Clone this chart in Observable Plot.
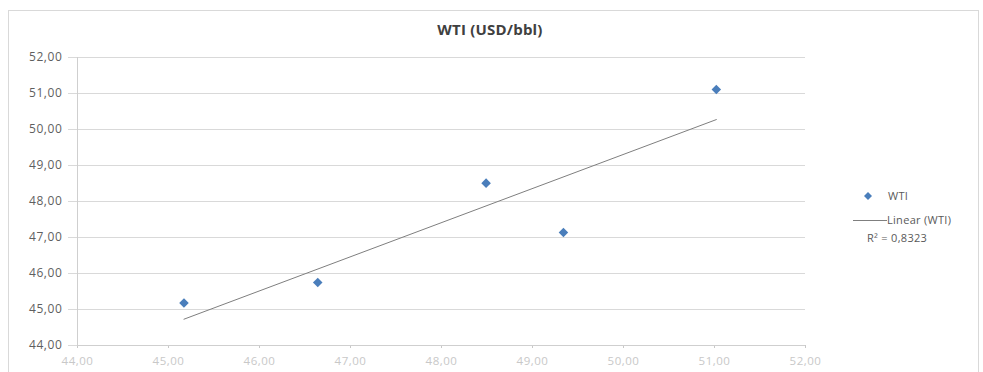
<!DOCTYPE html>
<html>
<head>
<meta charset="utf-8">
<script src="https://cdn.jsdelivr.net/npm/d3@7"></script>
<script src="https://cdn.jsdelivr.net/npm/@observablehq/plot@0.6"></script>
<style>
  html, body { margin: 0; padding: 0; background: #fff; }
  #chart { position: relative; width: 983px; height: 372px; overflow: hidden; font-family: "Open Sans", sans-serif; }
  #frame { position: absolute; left: 8px; top: 10px; width: 971px; height: 400px; border: 1px solid #d9d9d9; box-sizing: border-box; }
  #title { position: absolute; left: 0; width: 980px; top: 19px; text-align: center; font-weight: bold; font-size: 15px; color: #404040; letter-spacing: 0.2px; }
  #legend { position: absolute; left: 850px; top: 186px; font-size: 11px; color: #595959; letter-spacing: 0.3px; }
  #legend .row { position: relative; height: 20px; }
  #legend svg { position: absolute; left: 0; top: 0; }
  #legend span { position: absolute; white-space: nowrap; }
  #plot { position: absolute; left: 0; top: 0; }
  #plot .y-axis text { font-size: 12px; letter-spacing: 0.6px; }
  #plot .x-axis text { font-size: 11.5px; letter-spacing: 0.5px; }
</style>
</head>
<body>
<div id="chart">
  <div id="frame"></div>
  <div id="plot"></div>
  <div id="title"></div>
  <div id="legend"></div>
</div>
<script>
// WTI observations (x, y pairs)
const wtiX = [45.17, 46.64, 48.49, 49.34, 51.02];
const wtiY = [45.18, 45.75, 48.51, 47.14, 51.11];
const xTicks = [44, 45, 46, 47, 48, 49, 50, 51, 52];
const yTicks = [44, 45, 46, 47, 48, 49, 50, 51, 52];
const seriesName = "WTI";
const chartTitle = "WTI (USD/bbl)";
const trendName = "Linear (WTI)";
const rSquared = 0.8323;

const points = wtiX.map((x, i) => ({x, y: wtiY[i]}));
const locale = d3.formatLocale({decimal: ",", thousands: "."});
const fmt = locale.format(".2f");
const fmt4 = locale.format(".4f");

const blue = "#4a7ebb";
const trendColor = "#7f7f7f";

const plot = Plot.plot({
  width: 983,
  height: 372,
  marginLeft: 77,
  marginRight: 178,
  marginTop: 57,
  marginBottom: 27,
  style: {fontFamily: "Open Sans, sans-serif", fontSize: "11px", background: "transparent"},
  x: {domain: [44, 52]},
  y: {domain: [44, 52]},
  marks: [
    Plot.gridY(yTicks, {stroke: "#d9d9d9", strokeOpacity: 1}),
    Plot.axisY(yTicks, {className: "y-axis", tickFormat: fmt, tickSize: 9, tickPadding: 6, stroke: "#d9d9d9", fill: "#5f5f5f", label: null}),
    Plot.axisX(xTicks, {className: "x-axis", tickFormat: fmt, tickSize: 3, tickPadding: 8, stroke: "#c8c8c8", fill: "#c8c8c8", label: null}),
    Plot.ruleX([44], {stroke: "#cfcfcf"}),
    Plot.ruleY([44], {stroke: "#cfcfcf"}),
    Plot.linearRegressionY(points, {x: "x", y: "y", stroke: trendColor, strokeWidth: 1, ci: 0}),
    Plot.dot(points, {x: "x", y: "y", symbol: "diamond2", r: 4.3, fill: blue, stroke: "none"})
  ]
});
document.getElementById("plot").append(plot);

document.getElementById("title").textContent = chartTitle;

// Legend: marker entry, trendline entry, R² value
const legend = document.getElementById("legend");
legend.innerHTML = `
  <div class="row">
    <svg width="40" height="20"><path d="M18,6 L22,10 L18,14 L14,10 Z" fill="${blue}"/></svg>
    <span style="left:38px; top:2px">${seriesName}</span>
  </div>
  <div class="row">
    <svg width="40" height="20"><line x1="3" x2="37" y1="14.5" y2="14.5" stroke="${trendColor}" stroke-width="1"/></svg>
    <span style="left:37px; top:6px">${trendName}</span>
  </div>
  <div class="row">
    <span style="left:17px; top:4px">R² = ${fmt4(rSquared)}</span>
  </div>`;
</script>
</body>
</html>
